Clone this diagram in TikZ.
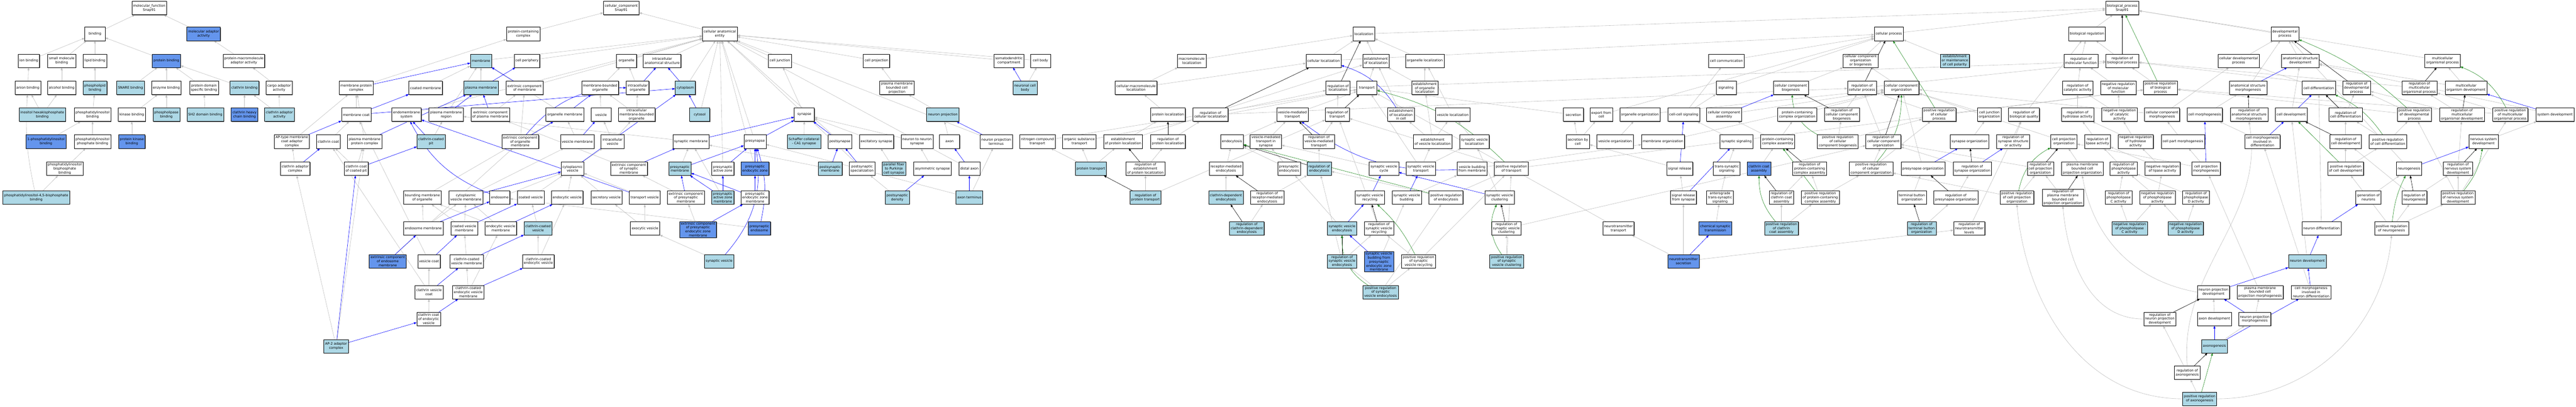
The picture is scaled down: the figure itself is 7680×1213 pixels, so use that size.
\documentclass[tikz,border=0pt]{standalone}
\usepackage{fontspec}
\setmainfont{DejaVu Sans}
\usetikzlibrary{arrows.meta,shadows,backgrounds}
\definecolor{litblue}{RGB}{173,216,230}
\definecolor{cornblue}{RGB}{100,149,237}
\definecolor{isagray}{RGB}{190,190,190}
\definecolor{partblue}{RGB}{0,0,255}
\definecolor{posgreen}{RGB}{34,139,34}
\tikzset{
  term/.style={draw=black, line width=0.8pt, fill=white, align=center,
    font=\fontsize{10}{12}\selectfont, inner xsep=4pt, inner ysep=2pt,
    minimum width=60pt, minimum height=40pt,
    drop shadow={shadow xshift=1.4pt, shadow yshift=-1.4pt, fill=black!55, opacity=1}},
  lite/.style={term, fill=litblue},
  dark/.style={term, fill=cornblue},
  isa/.style={draw=isagray, line width=0.9pt, -{Triangle[length=8pt,width=6pt]}},
  partof/.style={draw=partblue, line width=0.9pt, -{Triangle[length=8pt,width=6pt]}},
  regs/.style={draw=black, line width=0.9pt, -{Triangle[length=8pt,width=6pt]}},
  posreg/.style={draw=posgreen, line width=0.9pt, -{Triangle[length=8pt,width=6pt]}}
}
\begin{document}
\begin{tikzpicture}[x=1pt, y=-1pt]
  \useasboundingbox (0,0) rectangle (7680,1213);
  % molecular function
  \node[term] (mf) at (445,24) {molecular\_function\\Snap91};
  \node[term] (binding) at (283,101) {binding};
  \node[dark] (madapt) at (607,101) {molecular adaptor\\activity};
  \node[term] (ionb) at (86,181) {ion binding};
  \node[term] (smallmol) at (184,181) {small molecule\\binding};
  \node[term] (lipidb) at (283,181) {lipid binding};
  \node[dark] (protb) at (496,181) {protein binding};
  \node[term] (pmadapt) at (727,181) {protein-macromolecule\\adaptor activity};
  \node[term] (anionb) at (83,262) {anion binding};
  \node[term] (alcoholb) at (184,262) {alcohol binding};
  \node[lite] (phlipb) at (283,262) {phospholipid\\binding};
  \node[lite] (snareb) at (389,262) {SNARE binding};
  \node[term] (enzb) at (496,262) {enzyme binding};
  \node[term] (domainb) at (608,262) {protein domain\\specific binding};
  \node[lite] (clathb) at (729,262) {clathrin binding};
  \node[term] (cargo) at (832,262) {cargo adaptor\\activity};
  \node[lite] (ihpb) at (126,342) {inositol hexakisphosphate\\binding};
  \node[term] (pib) at (276,342) {phosphatidylinositol\\binding};
  \node[term] (kinb) at (393,342) {kinase binding};
  \node[lite] (plipb) at (496,342) {phospholipase\\binding};
  \node[lite] (shtwo) at (612,342) {SH2 domain binding};
  \node[dark] (chcb) at (729,342) {clathrin heavy\\chain binding};
  \node[lite] (cladapt) at (833,342) {clathrin adaptor\\activity};
  \node[dark] (onepib) at (137,422) {1-phosphatidylinositol\\binding};
  \node[term] (pipb) at (276,422) {phosphatidylinositol\\phosphate binding};
  \node[dark] (pkb) at (393,422) {protein kinase\\binding};
  \node[term] (pibisb) at (193,503) {phosphatidylinositol\\bisphosphate\\binding};
  \node[lite] (pip2b) at (108,589) {phosphatidylinositol-4,5-bisphosphate\\binding};
  % cellular component
  \node[term] (cc) at (1852,24) {cellular\_component\\Snap91};
  \node[term] (pcc) at (1560,101) {protein-containing\\complex};
  \node[term] (cae) at (2146,101) {cellular anatomical\\entity};
  \node[lite] (membrane) at (1434,181) {membrane};
  \node[term] (cellper) at (1571,181) {cell periphery};
  \node[term] (organelle) at (1868,181) {organelle};
  \node[term] (ias) at (1974,181) {intracellular\\anatomical structure};
  \node[term] (celljunc) at (2325,181) {cell junction};
  \node[term] (cellproj) at (2613,181) {cell projection};
  \node[term] (somato) at (3008,181) {somatodendritic\\compartment};
  \node[term] (cellbody) at (3102,181) {cell body};
  \node[term] (mpc) at (1062,262) {membrane protein\\complex};
  \node[term] (coatmem) at (1269,262) {coated membrane};
  \node[lite] (pm) at (1434,262) {plasma membrane};
  \node[term] (ecm) at (1564,262) {extrinsic component\\of membrane};
  \node[term] (mbo) at (1789,262) {membrane-bounded\\organelle};
  \node[term] (io) at (1901,262) {intracellular\\organelle};
  \node[lite] (cytoplasm) at (2043,262) {cytoplasm};
  \node[term] (pmbcp) at (2674,262) {plasma membrane\\bounded cell\\projection};
  \node[lite] (ncb) at (3056,262) {neuronal cell\\body};
  \node[term] (memcoat) at (1062,342) {membrane coat};
  \node[term] (endosys) at (1212,342) {endomembrane\\system};
  \node[term] (pmr) at (1330,342) {plasma membrane\\region};
  \node[term] (ecpm) at (1462,342) {extrinsic component\\of plasma membrane};
  \node[term] (orgmem) at (1684,342) {organelle membrane};
  \node[term] (vesicle) at (1792,342) {vesicle};
  \node[term] (imbo) at (1898,342) {intracellular\\membrane-bounded\\organelle};
  \node[lite] (cytosol) at (2086,342) {cytosol};
  \node[term] (synapse) at (2398,342) {synapse};
  \node[lite] (neuproj) at (2811,342) {neuron projection};
  \node[term] (aptype) at (870,422) {AP-type membrane\\coat adaptor\\complex};
  \node[term] (clcoat) at (979,422) {clathrin coat};
  \node[term] (pmpc) at (1087,422) {plasma membrane\\protein complex};
  \node[lite] (ccpit) at (1285,422) {clathrin-coated\\pit};
  \node[term] (ecom) at (1551,422) {extrinsic component\\of organelle\\membrane};
  \node[term] (vesmem) at (1721,422) {vesicle membrane};
  \node[term] (ivesicle) at (1826,422) {intracellular\\vesicle};
  \node[term] (synmem) at (2060,422) {synaptic membrane};
  \node[term] (presyn) at (2251,422) {presynapse};
  \node[lite] (schaffer) at (2397,422) {Schaffer collateral\\- CA1 synapse};
  \node[term] (postsyn) at (2504,422) {postsynapse};
  \node[term] (excsyn) at (2613,422) {excitatory synapse};
  \node[term] (n2nsyn) at (2734,422) {neuron to neuron\\synapse};
  \node[term] (axon) at (2831,422) {axon};
  \node[term] (npterm) at (2970,422) {neuron projection\\terminus};
  \node[term] (cladcx) at (880,503) {clathrin adaptor\\complex};
  \node[term] (cccp) at (1062,503) {clathrin coat\\of coated pit};
  \node[term] (cytves) at (1707,503) {cytoplasmic\\vesicle};
  \node[term] (ecsm) at (1875,503) {extrinsic component\\of synaptic\\membrane};
  \node[lite] (presynmem) at (2027,503) {presynaptic\\membrane};
  \node[term] (paz) at (2155,503) {presynaptic\\active zone};
  \node[dark] (pez) at (2251,503) {presynaptic\\endocytic zone};
  \node[lite] (postsynmem) at (2475,503) {postsynaptic\\membrane};
  \node[term] (postspec) at (2570,503) {postsynaptic\\specialization};
  \node[lite] (pfpc) at (2665,503) {parallel fiber\\to Purkinje\\cell synapse};
  \node[term] (asymsyn) at (2780,503) {asymmetric synapse};
  \node[term] (distax) at (2890,503) {distal axon};
  \node[term] (bmo) at (1259,589) {bounding membrane\\of organelle};
  \node[term] (cvm) at (1389,589) {cytoplasmic\\vesicle membrane};
  \node[term] (endosome) at (1490,589) {endosome};
  \node[term] (coatves) at (1582,589) {coated vesicle};
  \node[term] (endoves) at (1691,589) {endocytic vesicle};
  \node[term] (secves) at (1808,589) {secretory vesicle};
  \node[term] (transves) at (1922,589) {transport vesicle};
  \node[term] (ecpsm) at (2045,589) {extrinsic component\\of presynaptic\\membrane};
  \node[lite] (pazm) at (2155,589) {presynaptic\\active zone\\membrane};
  \node[term] (pezm) at (2251,589) {presynaptic\\endocytic zone\\membrane};
  \node[lite] (psd) at (2675,589) {postsynaptic\\density};
  \node[lite] (axterm) at (2890,589) {axon terminus};
  \node[term] (endomem) at (1262,681) {endosome membrane};
  \node[term] (covm) at (1384,681) {coated vesicle\\membrane};
  \node[term] (envm) at (1493,681) {endocytic vesicle\\membrane};
  \node[lite] (ccv) at (1604,681) {clathrin-coated\\vesicle};
  \node[term] (exoves) at (1923,681) {exocytic vesicle};
  \node[dark] (ecpezm) at (2081,684) {extrinsic component\\of presynaptic\\endocytic zone\\membrane};
  \node[dark] (psendo) at (2264,681) {presynaptic\\endosome};
  \node[dark] (ecem) at (1156,779) {extrinsic component\\of endosome\\membrane};
  \node[term] (vescoat) at (1279,779) {vesicle coat};
  \node[term] (ccvm) at (1391,779) {clathrin-coated\\vesicle membrane};
  \node[term] (ccev) at (1605,779) {clathrin-coated\\endocytic vesicle};
  \node[lite] (synves) at (2144,779) {synaptic vesicle};
  \node[term] (clvc) at (1279,871) {clathrin vesicle\\coat};
  \node[term] (ccevm) at (1396,871) {clathrin-coated\\endocytic vesicle\\membrane};
  \node[term] (clcev) at (1278,951) {clathrin coat\\of endocytic\\vesicle};
  \node[lite] (ap2) at (1002,1032) {AP-2 adaptor\\complex};
  % biological process
  \node[term] (bp) at (6327,24) {biological\_process\\Snap91};
  \node[term] (localization) at (4066,101) {localization};
  \node[term] (cellproc) at (5631,101) {cellular process};
  \node[term] (bioreg) at (6222,101) {biological regulation};
  \node[term] (devproc) at (6812,101) {developmental\\process};
  \node[term] (macroloc) at (3553,181) {macromolecule\\localization};
  \node[term] (cellloc) at (3946,181) {cellular localization};
  \node[term] (estloc) at (4102,181) {establishment\\of localization};
  \node[term] (orgloc) at (4248,181) {organelle localization};
  \node[term] (cellcomm) at (5147,181) {cell communication};
  \node[term] (ccob) at (5547,181) {cellular component\\organization\\or biogenesis};
  \node[lite] (emcp) at (5828,181) {establishment\\or maintenance\\of cell polarity};
  \node[term] (regmf) at (6204,181) {regulation of\\molecular function};
  \node[term] (regbp) at (6327,181) {regulation of\\biological process};
  \node[term] (celldev) at (6674,181) {cellular developmental\\process};
  \node[term] (asdev) at (6858,181) {anatomical structure\\development};
  \node[term] (mop) at (7282,181) {multicellular\\organismal process};
  \node[term] (cmloc) at (3387,262) {cellular macromolecule\\localization};
  \node[term] (regloc) at (3989,262) {regulation of\\localization};
  \node[term] (transport) at (4075,262) {transport};
  \node[term] (estorgloc) at (4248,262) {establishment\\of organelle\\localization};
  \node[term] (signaling) at (5146,262) {signaling};
  \node[term] (ccbio) at (5339,262) {cellular component\\biogenesis};
  \node[term] (regcp) at (5551,262) {regulation of\\cellular process};
  \node[term] (cco) at (5669,262) {cellular component\\organization};
  \node[term] (regcat) at (6194,262) {regulation of\\catalytic activity};
  \node[term] (nregmf) at (6315,262) {negative regulation\\of molecular\\function};
  \node[term] (pregbp) at (6441,262) {positive regulation\\of biological\\process};
  \node[term] (asm) at (6702,262) {anatomical structure\\morphogenesis};
  \node[term] (celldiff) at (6913,262) {cell differentiation};
  \node[term] (regdev) at (7026,262) {regulation of\\developmental\\process};
  \node[term] (regmop) at (7213,262) {regulation of\\multicellular\\organismal process};
  \node[term] (mod) at (7352,262) {multicellular\\organism development};
  \node[term] (protloc) at (3482,342) {protein localization};
  \node[term] (regcloc) at (3609,342) {regulation of\\cellular localization};
  \node[term] (vmt) at (3853,342) {vesicle-mediated\\transport};
  \node[term] (regtrans) at (3987,342) {regulation of\\transport};
  \node[term] (estlocc) at (4177,342) {establishment\\of localization\\in cell};
  \node[term] (vesloc) at (4331,342) {vesicle localization};
  \node[term] (secretion) at (4691,342) {secretion};
  \node[term] (export) at (4774,342) {export from\\cell};
  \node[term] (orgorg) at (4889,342) {organelle organization};
  \node[term] (ccsig) at (5020,342) {cell-cell signaling};
  \node[term] (ccasm) at (5140,342) {cellular component\\assembly};
  \node[term] (pcco) at (5358,342) {protein-containing\\complex organization};
  \node[term] (regccb) at (5491,342) {regulation of\\cellular component\\biogenesis};
  \node[term] (pregcp) at (5781,342) {positive regulation\\of cellular\\process};
  \node[term] (cjorg) at (5931,342) {cell junction\\organization};
  \node[term] (regbq) at (6034,342) {regulation of\\biological quality};
  \node[term] (reghyd) at (6194,342) {regulation of\\hydrolase activity};
  \node[term] (nregcat) at (6319,342) {negative regulation\\of catalytic\\activity};
  \node[term] (ccmorph) at (6446,342) {cellular component\\morphogenesis};
  \node[term] (cellmorph) at (6573,342) {cell morphogenesis};
  \node[term] (regasm) at (6705,342) {regulation of\\anatomical structure\\morphogenesis};
  \node[term] (celldevel) at (6831,342) {cell development};
  \node[term] (regcdiff) at (6993,342) {regulation of\\cell differentiation};
  \node[term] (pregdev) at (7198,342) {positive regulation\\of developmental\\process};
  \node[term] (regmod) at (7340,342) {regulation of\\multicellular\\organismal development};
  \node[term] (pregmop) at (7484,342) {positive regulation\\of multicellular\\organismal process};
  \node[term] (sysdev) at (7617,342) {system development};
  \node[term] (ncompt) at (3093,422) {nitrogen compound\\transport};
  \node[term] (orgsubt) at (3218,422) {organic substance\\transport};
  \node[term] (estprotloc) at (3348,422) {establishment\\of protein localization};
  \node[term] (regprotloc) at (3482,422) {regulation of\\protein localization};
  \node[term] (endocytosis) at (3673,422) {endocytosis};
  \node[term] (vmtsyn) at (3774,422) {vesicle-mediated\\transport in\\synapse};
  \node[term] (regvmt) at (3932,422) {regulation of\\vesicle-mediated\\transport};
  \node[term] (estvesloc) at (4271,422) {establishment\\of vesicle localization};
  \node[term] (svloc) at (4396,422) {synaptic vesicle\\localization};
  \node[term] (secbycell) at (4704,422) {secretion by\\cell};
  \node[term] (vesorg) at (4815,422) {vesicle organization};
  \node[term] (memorg) at (4958,422) {membrane organization};
  \node[term] (synsig) at (5177,422) {synaptic signaling};
  \node[term] (pcca) at (5300,422) {protein-containing\\complex assembly};
  \node[term] (pregccb) at (5479,422) {positive regulation\\of cellular\\component biogenesis};
  \node[term] (regcco) at (5615,422) {regulation of\\cellular component\\organization};
  \node[term] (synorg) at (5872,422) {synapse organization};
  \node[term] (regssa) at (6002,422) {regulation of\\synapse structure\\or activity};
  \node[term] (cporg) at (6153,422) {cell projection\\organization};
  \node[term] (reglip) at (6253,422) {regulation of\\lipase activity};
  \node[term] (nreghyd) at (6367,422) {negative regulation\\of hydrolase\\activity};
  \node[term] (cpmorph) at (6508,422) {cell part morphogenesis};
  \node[term] (cmid) at (6745,422) {cell morphogenesis\\involved in\\differentiation};
  \node[term] (regcdev) at (6993,422) {regulation of\\cell development};
  \node[term] (pregcdiff) at (7119,422) {positive regulation\\of cell differentiation};
  \node[term] (nsdev) at (7404,422) {nervous system\\development};
  \node[lite] (protrans) at (3252,503) {protein transport};
  \node[term] (regepl) at (3415,503) {regulation of\\establishment\\of protein localization};
  \node[term] (rme) at (3655,503) {receptor-mediated\\endocytosis};
  \node[term] (psendoc) at (3843,503) {presynaptic\\endocytosis};
  \node[lite] (regendo) at (3933,503) {regulation of\\endocytosis};
  \node[term] (svcycle) at (4126,503) {synaptic vesicle\\cycle};
  \node[term] (svtrans) at (4236,503) {synaptic vesicle\\transport};
  \node[term] (vbud) at (4389,503) {vesicle budding\\from membrane};
  \node[term] (pregtrans) at (4506,503) {positive regulation\\of transport};
  \node[term] (sigrel) at (5008,503) {signal release};
  \node[term] (tssig) at (5148,503) {trans-synaptic\\signaling};
  \node[dark] (clca) at (5244,503) {clathrin coat\\assembly};
  \node[term] (regpcca) at (5395,503) {regulation of\\protein-containing\\complex assembly};
  \node[term] (pregcco) at (5578,503) {positive regulation\\of cellular\\component organization};
  \node[term] (psorg) at (5733,503) {presynapse organization};
  \node[term] (regsynorg) at (5880,503) {regulation of\\synapse organization};
  \node[term] (regcporg) at (6083,503) {regulation of\\cell projection\\organization};
  \node[term] (pmbcporg) at (6208,503) {plasma membrane\\bounded cell\\projection organization};
  \node[term] (regpla) at (6331,503) {regulation of\\phospholipase\\activity};
  \node[term] (nreglip) at (6447,503) {negative regulation\\of lipase activity};
  \node[term] (cpmorphg) at (6577,503) {cell projection\\morphogenesis};
  \node[term] (pregcdev) at (6993,503) {positive regulation\\of cell development};
  \node[term] (neurogen) at (7182,503) {neurogenesis};
  \node[term] (regnsd) at (7328,503) {regulation of\\nervous system\\development};
  \node[lite] (regprottr) at (3415,589) {regulation of\\protein transport};
  \node[lite] (cde) at (3655,589) {clathrin-dependent\\endocytosis};
  \node[term] (regrme) at (3778,589) {regulation of\\receptor-mediated\\endocytosis};
  \node[term] (svrec) at (4084,589) {synaptic vesicle\\recycling};
  \node[term] (svbud) at (4194,589) {synaptic vesicle\\budding};
  \node[term] (pregendo) at (4311,589) {positive regulation\\of endocytosis};
  \node[term] (svclust) at (4471,589) {synaptic vesicle\\clustering};
  \node[term] (srsyn) at (5019,589) {signal release\\from synapse};
  \node[term] (atsig) at (5128,589) {anterograde\\trans-synaptic\\signaling};
  \node[term] (regclca) at (5311,589) {regulation of\\clathrin coat\\assembly};
  \node[term] (pregpcca) at (5427,589) {positive regulation\\of protein-containing\\complex assembly};
  \node[term] (tborg) at (5700,589) {terminal button\\organization};
  \node[term] (regpsorg) at (5831,589) {regulation of\\presynapse organization};
  \node[term] (pregcporg) at (6013,589) {positive regulation\\of cell projection\\organization};
  \node[term] (regpmbcp) at (6150,589) {regulation of\\plasma membrane\\bounded cell\\projection organization};
  \node[term] (regplc) at (6316,589) {regulation of\\phospholipase\\C activity};
  \node[term] (nregpla) at (6432,589) {negative regulation\\of phospholipase\\activity};
  \node[term] (regpld) at (6547,589) {regulation of\\phospholipase\\D activity};
  \node[term] (genneu) at (7061,589) {generation of\\neurons};
  \node[term] (regneurog) at (7198,589) {regulation of\\neurogenesis};
  \node[term] (pregnsd) at (7328,589) {positive regulation\\of nervous system\\development};
  \node[lite] (regcde) at (3717,681) {regulation of\\clathrin-dependent\\endocytosis};
  \node[lite] (svendo) at (4001,681) {synaptic vesicle\\endocytosis};
  \node[term] (regsvrec) at (4111,681) {regulation of\\synaptic vesicle\\recycling};
  \node[term] (regsvcl) at (4491,681) {regulation of\\synaptic vesicle\\clustering};
  \node[term] (ntt) at (4825,681) {neurotransmitter\\transport};
  \node[dark] (cst) at (5114,681) {chemical synaptic\\transmission};
  \node[lite] (pregclca) at (5311,681) {positive regulation\\of clathrin\\coat assembly};
  \node[lite] (regtbo) at (5729,681) {regulation of\\terminal button\\organization};
  \node[term] (regntl) at (5871,681) {regulation of\\neurotransmitter\\levels};
  \node[lite] (nregplc) at (6349,681) {negative regulation\\of phospholipase\\C activity};
  \node[lite] (nregpld) at (6516,681) {negative regulation\\of phospholipase\\D activity};
  \node[term] (neudiff) at (6921,681) {neuron differentiation};
  \node[term] (pregneurog) at (7130,681) {positive regulation\\of neurogenesis};
  \node[lite] (regsvendo) at (4001,779) {regulation of\\synaptic vesicle\\endocytosis};
  \node[dark] (svbpez) at (4111,780) {synaptic vesicle\\budding from\\presynaptic\\endocytic zone\\membrane};
  \node[term] (pregsvrec) at (4229,779) {positive regulation\\of synaptic\\vesicle recycling};
  \node[lite] (pregsvcl) at (4492,779) {positive regulation\\of synaptic\\vesicle clustering};
  \node[dark] (nts) at (5019,779) {neurotransmitter\\secretion};
  \node[lite] (neudev) at (6879,779) {neuron development};
  \node[lite] (pregsvendo) at (4116,871) {positive regulation\\of synaptic\\vesicle endocytosis};
  \node[term] (npdev) at (6599,871) {neuron projection\\development};
  \node[term] (pmbcpm) at (6738,871) {plasma membrane\\bounded cell\\projection morphogenesis};
  \node[term] (cmind) at (6890,871) {cell morphogenesis\\involved in\\neuron differentiation};
  \node[term] (regnpd) at (6439,951) {regulation of\\neuron projection\\development};
  \node[term] (axdev) at (6602,951) {axon development};
  \node[term] (npmorph) at (6722,951) {neuron projection\\morphogenesis};
  \node[lite] (axgen) at (6602,1032) {axonogenesis};
  \node[term] (regaxgen) at (6521,1111) {regulation of\\axonogenesis};
  \node[lite] (pregaxgen) at (6558,1189) {positive regulation\\of axonogenesis};
  \begin{scope}[on background layer]
    \fill[white] (0,0) rectangle (7680,1213);
    % is_a
    \foreach \c/\p in {binding/mf, madapt/mf, ionb/binding, smallmol/binding,
      lipidb/binding, protb/binding, pmadapt/madapt, anionb/ionb,
      alcoholb/smallmol, phlipb/lipidb, snareb/protb, enzb/protb, domainb/protb,
      clathb/protb, cargo/pmadapt, ihpb/anionb, ihpb/alcoholb, pib/phlipb,
      kinb/enzb, plipb/enzb, shtwo/domainb, chcb/clathb, cladapt/clathb,
      cladapt/cargo, onepib/pib, pipb/pib, pkb/kinb, pibisb/pipb, pip2b/pibisb}
      \draw[isa] (\c) -- (\p);
    \draw[isa] (pip2b) to[bend left=8] (anionb);
    \foreach \c/\p in {pcc/cc, cae/cc, mpc/pcc, membrane/cae, cellper/cae,
      organelle/cae, ias/cae, celljunc/cae, cytoplasm/cae, cytosol/cae,
      mbo/organelle, io/organelle, pm/membrane, coatmem/membrane, pmr/membrane,
      orgmem/membrane, endosys/cae, ecm/cae, ecpm/ecm, vesicle/mbo, imbo/mbo,
      imbo/io, vesmem/orgmem, ivesicle/vesicle, ivesicle/imbo, ecom/ecm,
      ccpit/pmr, memcoat/mpc, aptype/mpc, pmpc/mpc, clcoat/memcoat,
      cladcx/aptype, cccp/clcoat, cccp/pmpc, ap2/cladcx, ap2/pmpc,
      cytves/ivesicle, bmo/orgmem, cvm/vesmem, endomem/bmo, endomem/cvm,
      covm/cvm, covm/bmo, envm/cvm, envm/bmo, ccv/coatves, coatves/cytves,
      endoves/cytves, secves/cytves, transves/cytves, endosome/cytves,
      exoves/transves, exoves/secves, ecem/ecom, vescoat/memcoat, ccvm/covm,
      ccev/ccv, ccev/endoves, clvc/vescoat, clvc/clcoat, ccevm/ccvm,
      ccevm/envm, clcev/clvc, synmem/pmr, schaffer/synapse, excsyn/synapse,
      n2nsyn/synapse, presynmem/synmem, ecsm/ecpm, ecpsm/ecsm, pazm/synmem,
      ecpezm/ecpsm, psendo/endosome, synves/exoves, postsynmem/synmem,
      pfpc/excsyn, asymsyn/n2nsyn, psd/postspec, synapse/celljunc, presyn/cae,
      postsyn/cae, paz/cae, pez/cae, postspec/cae, cellproj/cae,
      pmbcp/cellproj, neuproj/pmbcp, axon/neuproj, distax/cae, axterm/npterm,
      axterm/presyn, npterm/cae, somato/cae, cellbody/cae, ncb/cellbody}
      \draw[isa] (\c) -- (\p);
    \foreach \c/\p in {localization/bp, cellproc/bp, bioreg/bp, devproc/bp,
      mop/bp, macroloc/localization, cellloc/localization, estloc/localization,
      orgloc/localization, cmloc/macroloc, cmloc/cellloc, protloc/cmloc,
      estprotloc/protloc, estprotloc/estloc, regprotloc/regcloc, regcloc/regloc,
      transport/estloc, estorgloc/orgloc, estorgloc/estloc, estlocc/estloc,
      vesloc/orgloc, regtrans/regloc, vmt/transport, ncompt/transport,
      orgsubt/transport, protrans/ncompt, protrans/orgsubt, protrans/estprotloc,
      regepl/regprotloc, regprottr/regepl, regprottr/regtrans, rme/endocytosis,
      cde/rme, regrme/regendo, regcde/regrme, endocytosis/vmt, vmtsyn/vmt,
      psendoc/endocytosis, psendoc/vmtsyn, regendo/regvmt, regvmt/regtrans,
      estvesloc/vesloc, estvesloc/estorgloc, estvesloc/estlocc, svloc/vesloc,
      svcycle/vmtsyn, svtrans/transport, svtrans/estvesloc, svtrans/svloc,
      vbud/memorg, pregtrans/regtrans, pregtrans/pregbp, svbud/vbud,
      pregendo/regendo, pregendo/pregtrans, svclust/svloc, svendo/psendoc,
      regsvrec/regtrans, regsvendo/regsvrec, regsvendo/regendo, svbpez/svbud,
      pregsvrec/regsvrec, pregsvrec/pregtrans, pregsvendo/regsvendo,
      pregsvendo/pregsvrec, pregsvendo/pregendo, pregsvcl/regsvcl,
      pregsvcl/pregtrans, regsvcl/regcco, nts/srsyn, nts/ntt, nts/regntl,
      ntt/transport, secretion/transport, secbycell/secretion, secbycell/export,
      export/cellproc, sigrel/secbycell, srsyn/sigrel, vesorg/orgorg,
      orgorg/cco, memorg/cco, ccsig/cellcomm, ccsig/signaling, synsig/ccsig,
      tssig/synsig, atsig/tssig, cst/atsig, cellcomm/cellproc,
      signaling/cellproc, cellloc/cellproc, regloc/regbp, regcloc/regcp,
      ccasm/cco, pcca/ccasm, pcca/pcco, pcco/cco, clca/pcca, regclca/regpcca,
      pregclca/regclca, pregclca/pregpcca, pregpcca/regpcca, pregpcca/pregcco,
      ccob/cellproc, emcp/cellproc, ccbio/ccob, cco/ccob, regcp/regbp,
      regccb/regcp, pregccb/regccb, pregccb/pregcp, regcco/regcp,
      pregcco/regcco, pregcco/pregcp, pregcp/regcp, pregcp/pregbp, cjorg/cco,
      synorg/cjorg, psorg/cco, regsynorg/regcco, regssa/regbq, regbq/bioreg,
      regpsorg/regsynorg, tborg/psorg, regtbo/regpsorg, regntl/regbq,
      cporg/cco, regcporg/regcco, pmbcporg/cporg, regpmbcp/regcporg,
      pregcporg/regcporg, pregcporg/pregcco, regmf/bioreg, regbp/bioreg,
      pregbp/regbp, regcat/regmf, nregmf/regmf, reghyd/regcat, nregcat/regcat,
      nregcat/nregmf, reglip/reghyd, nreghyd/reghyd, nreghyd/nregcat,
      regpla/reglip, nreglip/reglip, nreglip/nreghyd, regplc/regpla,
      nregpla/regpla, nregpla/nreglip, regpld/regpla, nregplc/regplc,
      nregplc/nregpla, nregpld/regpld, nregpld/nregpla, ccmorph/celldev,
      ccmorph/cco, cellmorph/asm, cpmorph/ccmorph, cpmorphg/cpmorph,
      cpmorphg/cporg, asm/devproc, celldev/devproc, asdev/devproc,
      celldiff/celldev, regdev/regbp, pregdev/regdev, pregdev/pregbp,
      regmop/regbp, regmod/regmop, regmod/regdev, mod/mop, mod/asdev,
      pregmop/regmop, pregmop/pregbp, sysdev/asdev, celldevel/asdev,
      regcdiff/regdev, cmid/cellmorph, regcdev/regcdiff, pregcdiff/regcdiff,
      pregcdiff/pregdev, nsdev/sysdev, pregcdev/regcdev, pregcdev/pregcdiff,
      neurogen/devproc, regnsd/regmod, genneu/neurogen, regneurog/regnsd,
      regneurog/regcdev, pregnsd/regnsd, pregnsd/pregdev, pregnsd/pregmop,
      neudiff/celldiff, pregneurog/regneurog, pregneurog/pregnsd,
      pregneurog/pregcdev, neudev/celldevel, pmbcpm/cpmorphg,
      cmind/cmid, axdev/npdev, npmorph/pmbcpm, axgen/npmorph,
      regaxgen/regnpd, pregaxgen/regaxgen}
      \draw[isa] (\c) -- (\p);
    % curved is_a
    \draw[isa] (npdev.west) to[out=170,in=-80] (pmbcporg.south);
    \draw[isa] (regnpd.west) to[out=180,in=-85] (regpmbcp.south);
    \draw[isa] (regaxgen.north) to[out=95,in=-80] (regasm.south);
    \draw[isa] (pregaxgen.east) to[out=0,in=-95] (pregneurog.south);
    \draw[isa] (pregaxgen.west) to[out=180,in=-85] (pregcporg.south);
    % part_of
    \foreach \c/\p in {mpc/membrane, memcoat/coatmem, memcoat/cytoplasm,
      pmpc/pm, aptype/memcoat, cladcx/clcoat, cccp/ccpit, ap2/cccp, ap2/clcev,
      pm/cellper, ecm/membrane, pmr/pm, ecpm/pm, ccpit/endosys,
      transves/endosys, orgmem/mbo, ecom/orgmem,
      vesmem/vesicle, io/ias, cytoplasm/ias, cytosol/cytoplasm,
      cytves/cytoplasm, cvm/cytves, endomem/endosome, covm/coatves,
      envm/endoves, ecem/endomem, vescoat/covm, ccvm/ccv, clvc/ccvm,
      ccevm/ccev, clcev/ccevm, synmem/synapse, presyn/synapse,
      postsyn/synapse, ecsm/synmem, presynmem/presyn, paz/presyn, pez/presyn,
      ecpsm/presynmem, pazm/presynmem, pazm/paz, pezm/pez, pezm/presynmem,
      ecpezm/pezm, postsynmem/postsyn,
      postspec/postsyn, psd/asymsyn, npterm/neuproj, distax/axon,
      axterm/distax, ncb/somato, svrec/svcycle,
      svbud/svtrans, svclust/svcycle, svendo/svrec, svbpez/svendo,
      srsyn/synsig, sigrel/ccsig, nts/cst, ccasm/ccbio, psorg/synorg,
      regsynorg/regssa, asm/asdev, celldevel/celldiff, sysdev/mod,
      neurogen/nsdev, cpmorphg/cellmorph, cmid/celldevel, neudiff/genneu,
      neudev/neudiff, npdev/neudev, cmind/neudev, npmorph/npdev, axgen/axdev,
      axgen/cmind}
      \draw[partof] (\c) -- (\p);
    % curved part_of
    \draw[partof] (endosome) to[bend left=20] (endosys);
    \draw[partof] (ecom) to[bend left=25] (io);
    \draw[partof] (psendo) to[bend right=15] (presyn);
    \draw[partof] (synves) to[bend right=25] (presyn);
    \draw[partof] (estlocc) to[bend right=20] (cellloc);
    \draw[partof] (vbud) to[bend left=20] (vmt);
    % regulates
    \foreach \c/\p in {regbp/bp, regloc/localization, regcloc/cellloc,
      regprotloc/protloc, regepl/estprotloc, regprottr/protrans, regrme/rme,
      regcde/cde, regvmt/vmt, regtrans/transport, regendo/endocytosis,
      regsvrec/svrec, regsvendo/svendo, regsvcl/svclust, regcp/cellproc,
      regccb/ccbio, regcco/cco, regpcca/pcca, regclca/clca,
      regsynorg/synorg, regpsorg/psorg, regtbo/tborg, regcporg/cporg,
      regpmbcp/pmbcporg, regasm/asm, regdev/devproc, regmop/mop, regmod/mod,
      regcdiff/celldiff, regcdev/celldevel, regnsd/nsdev,
      regneurog/neurogen, regnpd/npdev, regaxgen/axgen}
      \draw[regs] (\c) -- (\p);
    % positively regulates
    \foreach \c/\p in {pregbp/bp, pregcp/cellproc, pregendo/endocytosis,
      pregpcca/pcca, pregcdev/celldevel, pregaxgen/axgen}
      \draw[posreg] (\c) -- (\p);
    \draw[posreg] (pregtrans) to[bend right=15] (transport);
    \draw[posreg] (pregsvrec) to[bend right=10] (svrec);
    \draw[posreg] (pregsvendo) to[bend left=30] (svendo);
    \draw[posreg] (pregsvcl) to[bend left=30] (svclust);
    \draw[posreg] (pregclca) to[bend left=20] (clca);
    \draw[posreg] (pregccb) to[bend left=30] (ccbio);
    \draw[posreg] (pregcco) to[bend right=20] (cco);
    \draw[posreg] (pregcporg) to[bend left=25] (cporg);
    \draw[posreg] (pregdev) to[bend right=10] (devproc);
    \draw[posreg] (pregmop) to[bend right=20] (mop);
    \draw[posreg] (pregcdiff) to[bend right=15] (celldiff);
    \draw[posreg] (pregnsd) to[bend right=15] (nsdev);
    \draw[posreg] (pregneurog) to[bend left=10] (neurogen);
  \end{scope}
\end{tikzpicture}
\end{document}
